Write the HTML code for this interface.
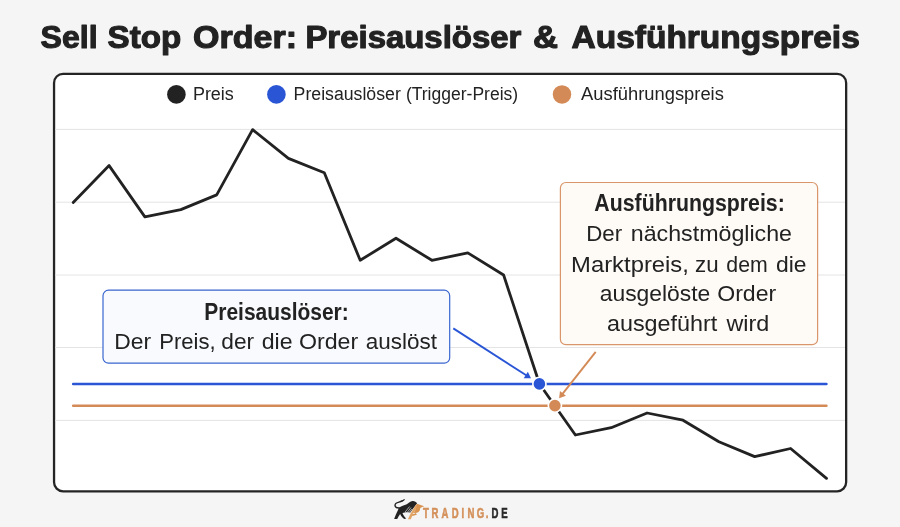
<!DOCTYPE html>
<html lang="de"><head><meta charset="utf-8"><title>Sell Stop Order</title>
<style>
html,body{margin:0;padding:0;background:#f5f5f5;}
body{width:900px;height:527px;overflow:hidden;font-family:"Liberation Sans",sans-serif;}
svg{display:block}
text{font-family:"Liberation Sans",sans-serif;fill:#222}
.ttl{font-weight:bold;font-size:31.5px;stroke:#222;stroke-width:1.1px;stroke-linejoin:round}
.lg{font-size:17.6px}
.an{font-size:22.5px}
.anb{font-size:23.3px;font-weight:bold}
</style></head><body>
<svg width="900" height="527" viewBox="0 0 900 527">
<rect width="900" height="527" fill="#f5f5f5"/>
<text class="ttl" y="48.4"><tspan x="40.60" textLength="57.00" lengthAdjust="spacingAndGlyphs">Sell</tspan> <tspan x="107.60" textLength="73.60" lengthAdjust="spacingAndGlyphs">Stop</tspan> <tspan x="193.00" textLength="104.00" lengthAdjust="spacingAndGlyphs">Order:</tspan> <tspan x="305.40" textLength="216.00" lengthAdjust="spacingAndGlyphs">Preisauslöser</tspan> <tspan x="532.90" textLength="25.00" lengthAdjust="spacingAndGlyphs">&amp;</tspan> <tspan x="571.60" textLength="288.20" lengthAdjust="spacingAndGlyphs">Ausführungspreis</tspan></text>
<rect x="54.05" y="73.9" width="792.1" height="417.4" rx="9" ry="9" fill="#fff" stroke="#242424" stroke-width="2.3"/>
<g stroke="#e4e4e4" stroke-width="1"><line x1="55" x2="845" y1="129.4" y2="129.4"/><line x1="55" x2="845" y1="202.2" y2="202.2"/><line x1="55" x2="845" y1="275.0" y2="275.0"/><line x1="55" x2="845" y1="347.5" y2="347.5"/><line x1="55" x2="845" y1="420.4" y2="420.4"/></g>
<circle cx="176.4" cy="94.4" r="9.3" fill="#222"/>
<text class="lg" y="100"><tspan x="192.90" textLength="40.97" lengthAdjust="spacingAndGlyphs">Preis</tspan></text>
<circle cx="276.4" cy="94.4" r="9.3" fill="#2a56d6"/>
<text class="lg" y="100"><tspan x="293.62" textLength="107.17" lengthAdjust="spacingAndGlyphs">Preisauslöser</tspan> <tspan x="405.88" textLength="112.33" lengthAdjust="spacingAndGlyphs">(Trigger-Preis)</tspan></text>
<circle cx="562.0" cy="94.4" r="9.25" fill="#d38a56"/>
<text class="lg" y="100"><tspan x="581.00" textLength="142.87" lengthAdjust="spacingAndGlyphs">Ausführungspreis</tspan></text>
<polyline points="73.2,202.5 109.1,165.6 144.9,216.9 180.8,209.6 216.7,194.9 252.6,129.6 288.4,158.4 324.3,172.8 360.2,260.3 396.0,238.2 431.9,260.3 467.8,252.9 503.6,275.0 539.5,384.0 575.4,435.0 611.2,427.7 647.1,413.0 683.0,420.2 718.9,441.8 754.7,456.6 790.6,448.5 826.5,478.3" fill="none" stroke="#222" stroke-width="2.8" stroke-linejoin="round" stroke-linecap="round"/>
<line x1="73.2" x2="826.4" y1="384.0" y2="384.0" stroke="#2a56d6" stroke-width="2.6" stroke-linecap="round"/>
<line x1="73.2" x2="826.4" y1="405.8" y2="405.8" stroke="#d38a56" stroke-width="2.6" stroke-linecap="round"/>
<circle cx="539.4" cy="383.9" r="6.6" fill="#2a56d6" stroke="#fff" stroke-width="1.6"/>
<circle cx="554.9" cy="405.6" r="6.6" fill="#d38a56" stroke="#fff" stroke-width="1.6"/>
<!-- blue annotation -->
<rect x="103.0" y="290.2" width="346.7" height="73" rx="5.5" fill="#f8fafd" stroke="#3a66d0" stroke-width="1.2"/>
<text class="anb" y="319.6"><tspan x="204.29" textLength="144.45" lengthAdjust="spacingAndGlyphs">Preisauslöser:</tspan></text>
<text class="an" y="349.4"><tspan x="114.21" textLength="36.90" lengthAdjust="spacingAndGlyphs">Der</tspan> <tspan x="159.28" textLength="56.37" lengthAdjust="spacingAndGlyphs">Preis,</tspan> <tspan x="221.29" textLength="32.82" lengthAdjust="spacingAndGlyphs">der</tspan> <tspan x="261.68" textLength="30.86" lengthAdjust="spacingAndGlyphs">die</tspan> <tspan x="298.91" textLength="59.20" lengthAdjust="spacingAndGlyphs">Order</tspan> <tspan x="365.70" textLength="71.23" lengthAdjust="spacingAndGlyphs">auslöst</tspan></text>
<line x1="453.3" y1="328.4" x2="526.62" y2="375.49" stroke="#2a56d6" stroke-width="1.9"/><polygon points="531.00,378.30 523.73,378.15 527.84,371.75" fill="#2a56d6"/>
<!-- orange annotation -->
<rect x="560.4" y="182.5" width="257.2" height="162.2" rx="5.5" fill="#fefaf6" stroke="#d9966a" stroke-width="1.2"/>
<text class="anb" y="211.1"><tspan x="594.37" textLength="190.40" lengthAdjust="spacingAndGlyphs">Ausführungspreis:</tspan></text>
<text class="an" y="241.2"><tspan x="586.26" textLength="35.95" lengthAdjust="spacingAndGlyphs">Der</tspan> <tspan x="630.75" textLength="161.29" lengthAdjust="spacingAndGlyphs">nächstmögliche</tspan></text>
<text class="an" y="271.5"><tspan x="571.14" textLength="117.74" lengthAdjust="spacingAndGlyphs">Marktpreis,</tspan> <tspan x="695.10" textLength="23.55" lengthAdjust="spacingAndGlyphs">zu</tspan> <tspan x="726.34" textLength="41.37" lengthAdjust="spacingAndGlyphs">dem</tspan> <tspan x="775.98" textLength="30.54" lengthAdjust="spacingAndGlyphs">die</tspan></text>
<text class="an" y="301.2"><tspan x="599.69" textLength="110.64" lengthAdjust="spacingAndGlyphs">ausgelöste</tspan> <tspan x="717.22" textLength="58.99" lengthAdjust="spacingAndGlyphs">Order</tspan></text>
<text class="an" y="330.9"><tspan x="606.97" textLength="110.35" lengthAdjust="spacingAndGlyphs">ausgeführt</tspan> <tspan x="726.47" textLength="42.85" lengthAdjust="spacingAndGlyphs">wird</tspan></text>
<line x1="595.7" y1="351.8" x2="562.32" y2="394.12" stroke="#d38a56" stroke-width="1.9"/><polygon points="559.10,398.20 559.96,390.98 565.92,395.69" fill="#d38a56"/>
<!-- logo -->
<g id="logo">
<g transform="translate(390,496) scale(0.04933)">
<path d="M180,240 C140,242 104,226 101,190 C99,154 140,134 182,124 C212,117 232,108 250,94" fill="none" stroke="#222" stroke-width="27" stroke-linecap="round"/>
<path d="M232,108 C248,82 278,66 304,60 C298,86 272,106 246,118 Z" fill="#222"/>
<path d="M172,240 C228,202 290,186 340,165 C380,140 410,106 455,100 C496,97 532,120 550,148 L458,270 L408,340 C372,333 332,330 300,333 L252,346 C272,396 302,430 328,456 L292,467 C250,440 222,402 206,364 C186,388 166,422 146,467 L84,467 C100,420 128,350 158,292 C168,272 172,256 172,240 Z" fill="#222"/>
<path d="M305,328 L396,214 M346,336 L426,234 M386,340 L442,262" stroke="#f5f5f5" stroke-width="13" fill="none"/>
<path d="M532,166 L566,184 C520,270 460,380 422,470 L364,470 C400,390 450,290 532,166 Z" fill="#e3a566"/>
<path d="M546,156 L606,175 L694,206 L642,229 L613,241 L604,292 L572,331 L524,347 L545,382 L470,402 L440,398 L478,352 L505,300 L532,232 Z" fill="#d9934f"/>
<path d="M452,372 L470,345 L520,338 L508,362 Z" fill="#f5f5f5" opacity="0.8"/>
</g>
<text transform="scale(0.68,1)" x="622.17 634.60 649.34 664.42 678.61 687.36 701.18 714.34" y="518.5" style="font-weight:bold;font-size:14.1px;fill:#d4905a;stroke:#d4905a;stroke-width:0.55px">TRADING.</text><text transform="scale(0.68,1)" x="722.80 737.25" y="518.5" style="font-weight:bold;font-size:14.1px;fill:#2a2a2a;stroke:#2a2a2a;stroke-width:0.55px">DE</text>
</g>
</svg>
</body></html>
